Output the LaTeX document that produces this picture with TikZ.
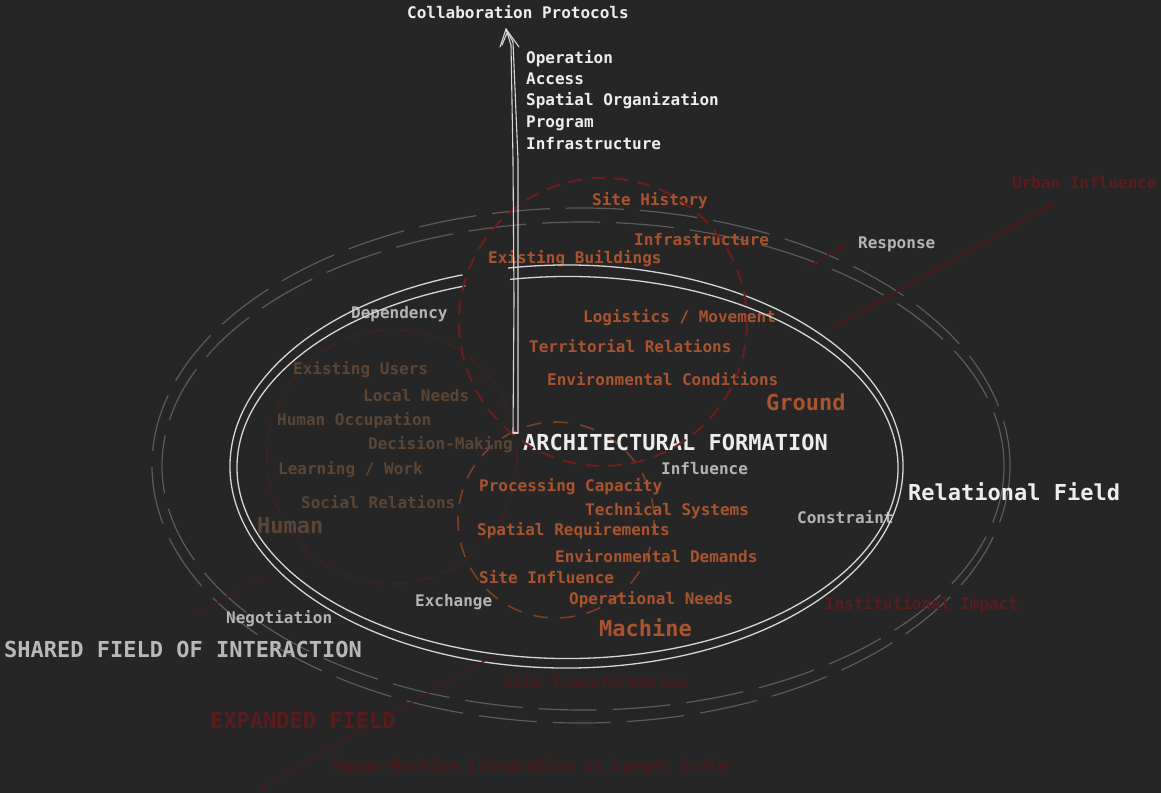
\documentclass[tikz,border=0pt]{standalone}
\usepackage{fontspec}
\setmainfont{DejaVu Sans Mono}
\usetikzlibrary{arrows.meta}
\definecolor{bg}{HTML}{262626}
\definecolor{wtext}{HTML}{EDEDED}
\definecolor{gtext}{HTML}{B4B4B4}
\definecolor{otext}{HTML}{A9532F}
\definecolor{htext}{HTML}{5B4535}
\definecolor{rtext}{HTML}{5A1C1C}
\definecolor{ftext}{HTML}{471B1B}
\definecolor{wline}{HTML}{D6D6D6}
\definecolor{oline}{HTML}{5C5C5C}
\definecolor{gcirc}{HTML}{6E1D1D}
\definecolor{hcirc}{HTML}{402320}
\definecolor{mcirc}{HTML}{7C4028}
\definecolor{rarrow}{HTML}{4E1818}
\begin{document}
\begin{tikzpicture}[x=1pt,y=-1pt,
  lab/.style={anchor=base west, inner sep=0pt, yshift=-6pt, font=\fontsize{16}{18}\selectfont\bfseries},
  big/.style={anchor=base west, inner sep=0pt, yshift=-8pt, font=\fontsize{22}{24}\selectfont\bfseries},
  whiteell/.style={draw=wline, line width=1.3pt},
  outerell/.style={draw=oline, line width=1.2pt, dash pattern=on 58pt off 16pt},
  groundc/.style={draw=gcirc, line width=2pt, dash pattern=on 14pt off 9pt},
  humanc/.style={draw=hcirc, line width=1.6pt, dash pattern=on 16pt off 10pt},
  machinec/.style={draw=mcirc, line width=1.6pt, dash pattern=on 15pt off 12pt},
  sketch/.style={draw=wline, line width=1.1pt, line cap=round, line join=round},
  redarrow/.style={draw=rarrow, line width=2pt, -{Stealth[length=9pt,width=7pt]}},
  faintarrow/.style={draw=ftext!80!bg, line width=1.4pt, -{Stealth[length=8pt,width=6pt]}}
]
\useasboundingbox (0,0) rectangle (1161,793);
\fill[bg] (0,0) rectangle (1161,793);

% outer dashed double ellipse
\draw[outerell] (581,465.5) ellipse [x radius=429, y radius=257.5];
\draw[outerell] (583,466) ellipse [x radius=421, y radius=244];

% human and machine circles
\draw[humanc] (392,457) ellipse [x radius=125, y radius=127];
\draw[machinec] (556,520) circle [radius=98];

% texts: top
\node[lab, text=wtext] (collab) at (407,12) {Collaboration Protocols};
\node[lab, text=wtext] (op) at (526,57) {Operation};
\node[lab, text=wtext] (acc) at (526,78) {Access};
\node[lab, text=wtext] (spo) at (526,99) {Spatial Organization};
\node[lab, text=wtext] (prog) at (526,121) {Program};
\node[lab, text=wtext] (infra1) at (526,143) {Infrastructure};

% ground texts
\node[lab, text=otext] (sh) at (592,199) {Site History};
\node[lab, text=otext] (infra2) at (634,239) {Infrastructure};
\node[lab, text=otext] (eb) at (488,257) {Existing Buildings};
\node[lab, text=otext] (lm) at (583,316) {Logistics / Movement};
\node[lab, text=otext] (tr) at (529,346) {Territorial Relations};
\node[lab, text=otext] (ec) at (547,379) {Environmental Conditions};
\node[big, text=otext] (ground) at (766,402) {Ground};

% relation labels
\node[lab, text=gtext] (resp) at (858,242) {Response};
\node[lab, text=rtext] (urban) at (1012,182) {Urban Influence};
\node[lab, text=gtext] (dep) at (351,312) {Dependency};
\node[lab, text=gtext] (infl) at (661,468) {Influence};
\node[lab, text=gtext] (cons) at (797,517) {Constraint};
\node[lab, text=gtext] (exch) at (415,600) {Exchange};
\node[lab, text=gtext] (nego) at (226,617) {Negotiation};

% human texts
\node[lab, text=htext] (eu) at (293,368) {Existing Users};
\node[lab, text=htext] (ln) at (363,395) {Local Needs};
\node[lab, text=htext] (ho) at (277,419) {Human Occupation};
\node[lab, text=htext] (dm) at (368,443) {Decision-Making};
\node[lab, text=htext] (lw) at (278,468) {Learning / Work};
\node[lab, text=htext] (sr) at (301,502) {Social Relations};
\node[big, text=htext] (human) at (257,525) {Human};

% center
\node[big, text=wtext] (af) at (523,442) {ARCHITECTURAL FORMATION};

% machine texts
\node[lab, text=otext] (pc) at (479,485) {Processing Capacity};
\node[lab, text=otext] (ts) at (585,509) {Technical Systems};
\node[lab, text=otext] (spr) at (477,529) {Spatial Requirements};
\node[lab, text=otext] (ed) at (555,556) {Environmental Demands};
\node[lab, text=otext] (si) at (479,577) {Site Influence};
\node[lab, text=otext] (on) at (569,598) {Operational Needs};
\node[big, text=otext] (machine) at (599,628) {Machine};

% field labels
\node[big, text=wtext] (rf) at (908,492) {Relational Field};
\node[big, text=gtext!95!white] (sfi) at (4,649) {SHARED FIELD OF INTERACTION};
\node[lab, text=rtext] (ii) at (825,603) {Institutional Impact};
\node[lab, text=ftext] (st) at (503,682) {Site Transformation};
\node[big, text=rtext] (ef) at (210,720) {EXPANDED FIELD};
\node[lab, text=ftext] (hmi) at (333,765) {Human-Machine Integration at Larger Scale};

% inner white double ellipse (open at top left)
\draw[whiteell] (566.5,466.5) ++(260:336.5 and 201.5) arc[start angle=260, end angle=612, x radius=336.5, y radius=201.5];
\draw[whiteell] (567.5,467.5) ++(260:330.5 and 191) arc[start angle=260, end angle=612, x radius=330.5, y radius=191];

% ground circle (on top)
\draw[groundc] (603,322) circle [radius=144];

% vertical sketched arrow to collaboration protocols
\coordinate (base1) at (513,433);
\coordinate (base2) at (518,433);
\coordinate (tip) at (506,29);
\draw[sketch] (base1) -- (514,300) -- (513,160) -- (511,45) -- (tip);
\draw[sketch] (base2) -- (518,300) -- (518,160) -- (513,42) -- (tip);
\draw[sketch] (base1) -- (base2);
\draw[sketch] (tip) -- (500,47);
\draw[sketch] (tip) -- (519,47);
\draw[sketch] (507,33) -- (502,45);

% red arrows
\coordinate (ui0) at (833,327);
\coordinate (ui1) at (1055,203);
\draw[redarrow] (ui0) -- (ui1);
\coordinate (rs0) at (806,268);
\coordinate (rs1) at (846,245);
\draw[redarrow, line width=1.6pt] (rs0) -- (rs1);
\coordinate (bl0) at (495,655);
\coordinate (bl1) at (260,788);
\draw[faintarrow] (bl0) -- (bl1);
\coordinate (ng0) at (268,574);
\coordinate (ng1) at (194,616);
\draw[draw=ftext!70!bg, line width=1.4pt] (ng0) -- (ng1);
\end{tikzpicture}
\end{document}
